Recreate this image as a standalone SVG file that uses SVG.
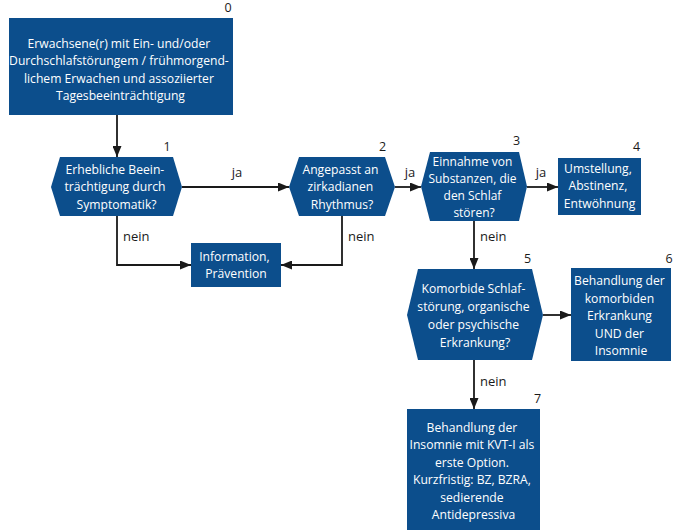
<svg xmlns="http://www.w3.org/2000/svg" width="673" height="530" viewBox="0 0 673 530">
<defs>
<style>
.node{fill:#0c4e8c}
.nt{font-family:"Open Sans","Noto Sans","DejaVu Sans",sans-serif;font-size:13.5px;fill:#ffffff;text-anchor:middle}
.nts{font-size:13px}
.lbl{font-family:"Open Sans","Noto Sans","DejaVu Sans",sans-serif;font-size:13px;fill:#1a1a1a}
.num{font-family:"Open Sans","Noto Sans","DejaVu Sans",sans-serif;font-size:12.5px;fill:#1a1a1a;text-anchor:middle}
.edge{fill:none;stroke:#1a1a1a;stroke-width:1.8}
</style>
<marker id="arr" markerUnits="userSpaceOnUse" markerWidth="11" markerHeight="9" refX="11" refY="4.5" orient="auto">
<path d="M0,0 L11,4.5 L0,9 Z" fill="#1a1a1a"/>
</marker>
</defs>
<rect width="673" height="530" fill="#ffffff"/>

<g id="connectors">
<path class="edge" d="M117,115 V157" marker-end="url(#arr)"/>
<path class="edge" d="M182,187 H289" marker-end="url(#arr)"/>
<path class="edge" d="M395,187 H421" marker-end="url(#arr)"/>
<path class="edge" d="M527,187 H558" marker-end="url(#arr)"/>
<path class="edge" d="M117,216 V265 H191" marker-end="url(#arr)"/>
<path class="edge" d="M342,216 V265 H281" marker-end="url(#arr)"/>
<path class="edge" d="M474,221 V269" marker-end="url(#arr)"/>
<path class="edge" d="M543,315 H571" marker-end="url(#arr)"/>
<path class="edge" d="M474,360 V409" marker-end="url(#arr)"/>
<text class="lbl" x="237" y="177" text-anchor="middle">ja</text>
<text class="lbl" x="410" y="177" text-anchor="middle">ja</text>
<text class="lbl" x="541" y="177" text-anchor="middle">ja</text>
<text class="lbl" x="123" y="241">nein</text>
<text class="lbl" x="348" y="241">nein</text>
<text class="lbl" x="480" y="241">nein</text>
<text class="lbl" x="480" y="386">nein</text>
</g>

<g id="node0">
<rect class="node" x="9" y="18" width="224" height="97"/>
<text class="nt" transform="translate(120.5 0) scale(0.9 1)">
<tspan x="0" y="48">Erwachsene(r) mit Ein- und/oder</tspan>
<tspan x="0" y="65.5">Durchschlafstörungem / frühmorgend-</tspan>
<tspan x="0" y="83">lichem Erwachen und assoziierter</tspan>
<tspan x="0" y="100.5">Tagesbeeinträchtigung</tspan>
</text>
<text class="num" x="228" y="12">0</text>
</g>

<g id="node1">
<path class="node" d="M51,187 L60,157 L173,157 L182,187 L173,216 L60,216 Z"/>
<text class="nt" transform="translate(116.5 0) scale(0.9 1)">
<tspan x="0" y="174">Erhebliche Beein-</tspan>
<tspan x="0" y="191.5">trächtigung durch</tspan>
<tspan x="0" y="209">Symptomatik?</tspan>
</text>
<text class="num" x="167" y="151">1</text>
</g>

<g id="node2">
<path class="node" d="M289,187 L299,157 L385,157 L395,187 L385,216 L299,216 Z"/>
<text class="nt" transform="translate(342 0) scale(0.9 1)">
<tspan x="0" y="174">Angepasst an</tspan>
<tspan x="0" y="191.5">zirkadianen</tspan>
<tspan x="0" y="209">Rhythmus?</tspan>
</text>
<text class="num" x="382.5" y="151">2</text>
</g>

<g id="node3">
<path class="node" d="M421,186.5 L430,152 L519,152 L527,186.5 L519,221 L430,221 Z"/>
<text class="nt nts" transform="translate(474 0) scale(0.92 1)">
<tspan x="0" y="166.5">Einnahme von</tspan>
<tspan x="0" y="183.5">Substanzen, die</tspan>
<tspan x="0" y="200.5">den Schlaf</tspan>
<tspan x="0" y="217.5">stören?</tspan>
</text>
<text class="num" x="516.5" y="145">3</text>
</g>

<g id="node4">
<rect class="node" x="558" y="158" width="83" height="57"/>
<text class="nt" transform="translate(599.5 0) scale(0.9 1)">
<tspan x="0" y="173">Umstellung,</tspan>
<tspan x="0" y="190.5">Abstinenz,</tspan>
<tspan x="0" y="208">Entwöhnung</tspan>
</text>
<text class="num" x="636.5" y="151">4</text>
</g>

<g id="node_info">
<rect class="node" x="191" y="243" width="90" height="44"/>
<text class="nt" transform="translate(236 0) scale(0.9 1)">
<tspan x="0" y="261">Information,</tspan>
<tspan x="0" y="278.5">Prävention</tspan>
</text>
</g>

<g id="node5">
<path class="node" d="M407,315 L418,269 L532,269 L543,315 L532,360 L418,360 Z"/>
<text class="nt" transform="translate(475 0) scale(0.9 1)">
<tspan x="0" y="293.5">Komorbide Schlaf-</tspan>
<tspan x="0" y="311.5">störung, organische</tspan>
<tspan x="0" y="329.5">oder psychische</tspan>
<tspan x="0" y="347">Erkrankung?</tspan>
</text>
<text class="num" x="527.5" y="263">5</text>
</g>

<g id="node6">
<rect class="node" x="571" y="268" width="100" height="93"/>
<text class="nt" transform="translate(621 0) scale(0.9 1)">
<tspan x="0" y="285.5">Behandlung der</tspan>
<tspan x="0" y="303">komorbiden</tspan>
<tspan x="0" y="320.5">Erkrankung</tspan>
<tspan x="0" y="338">UND der</tspan>
<tspan x="0" y="355.5">Insomnie</tspan>
</text>
<text class="num" x="669" y="263">6</text>
</g>

<g id="node7">
<rect class="node" x="407" y="409" width="133" height="121"/>
<text class="nt" transform="translate(473.5 0) scale(0.9 1)">
<tspan x="0" y="432">Behandlung der</tspan>
<tspan x="0" y="449.5">Insomnie mit KVT-I als</tspan>
<tspan x="0" y="467">erste Option.</tspan>
<tspan x="0" y="484.5">Kurzfristig: BZ, BZRA,</tspan>
<tspan x="0" y="502">sedierende</tspan>
<tspan x="0" y="519.5">Antidepressiva</tspan>
</text>
<text class="num" x="537.5" y="403">7</text>
</g>
</svg>
